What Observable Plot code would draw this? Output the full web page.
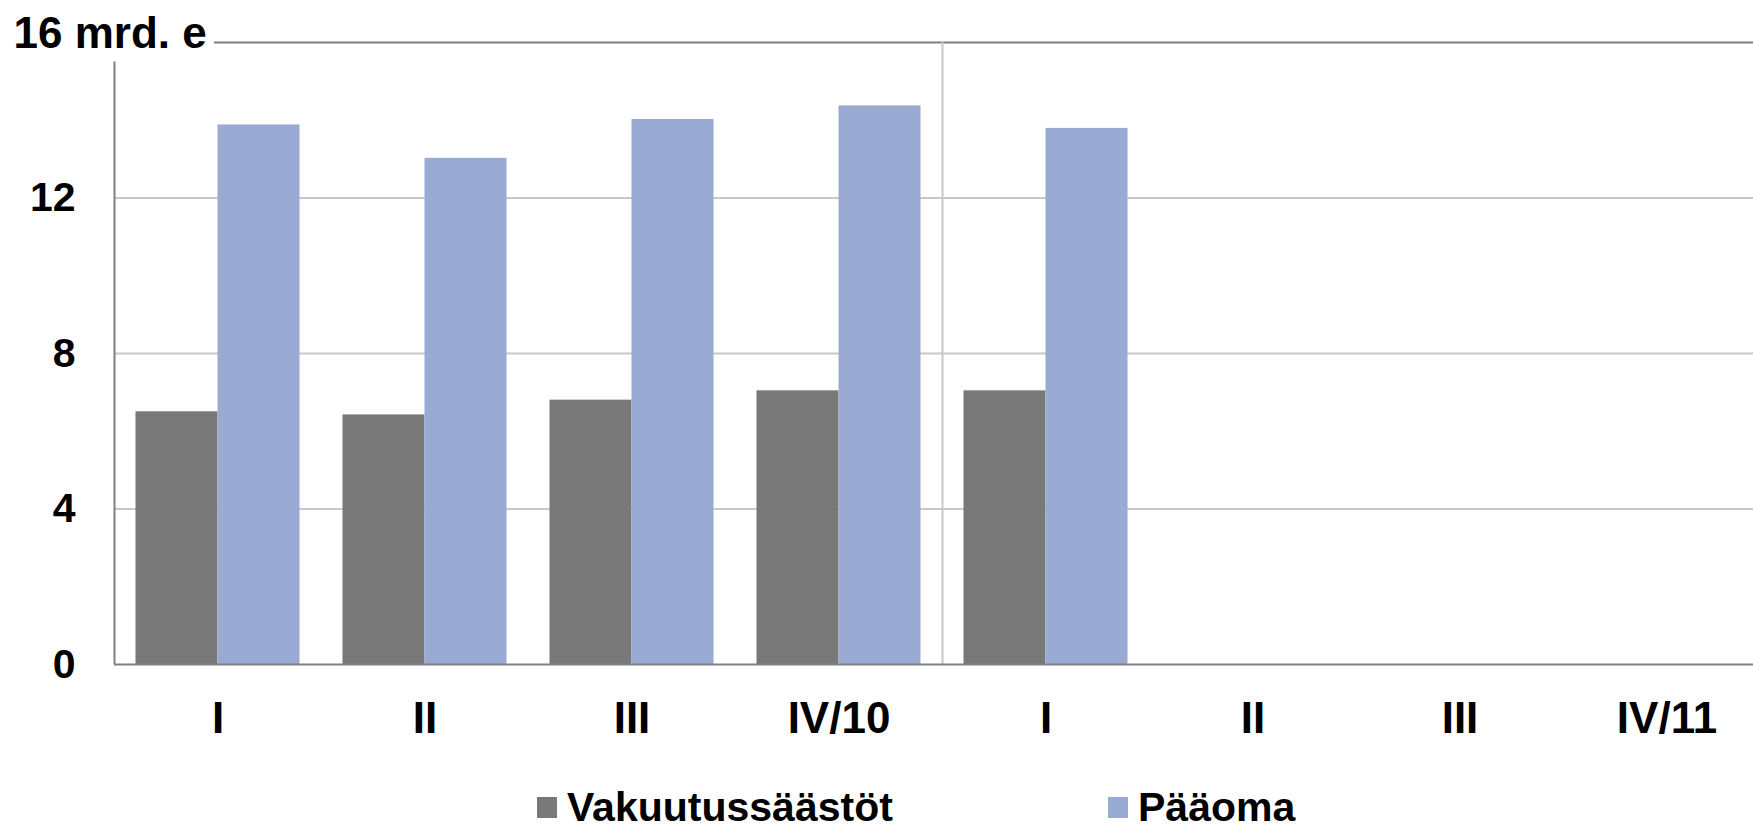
<!DOCTYPE html>
<html><head><meta charset="utf-8">
<script src="https://cdn.jsdelivr.net/npm/d3@7"></script>
<script src="https://cdn.jsdelivr.net/npm/@observablehq/plot@0.6"></script>
<style>
html,body{margin:0;padding:0;background:#fff;}
body{position:relative;width:1753px;height:829px;font-family:"Liberation Sans",Arial,sans-serif;}
#chart svg{display:block;}
#legend{position:absolute;left:537px;top:787px;display:flex;align-items:center;font-weight:bold;font-size:41px;color:#000;line-height:1;height:41px;}
.item{display:flex;align-items:center;}
.item:first-child{width:571px;}
.sw{width:20px;height:21px;margin-right:10px;flex:none;}
</style></head><body>
<div id="chart"></div>
<div id="legend"></div>
<script>
// ---- data ----
const quarters = ["I/10", "II/10", "III/10", "IV/10", "I/11", "II/11", "III/11", "IV/11"];
const quarterLabels = ["I", "II", "III", "IV/10", "I", "II", "III", "IV/11"];
const series = ["Vakuutussäästöt", "Pääoma"];
const vakuutussaastot = [6.50, 6.42, 6.80, 7.04, 7.04];
const paaoma = [13.88, 13.02, 14.02, 14.37, 13.79];
const yTicks = [0, 4, 8, 12];
const yTop = 16;
const yTopLabel = "16 mrd. e";

// ---- styles ----
const colors = ["#787878", "#99abd3"];
const gridColor = "#c8c8c8";
const axisColor = "#7f7f7f";
const plotLeft = 114, plotRight = 1770;
const bandW = (plotRight - plotLeft) / quarters.length;

// long table; quarters without data keep an empty value so their facet still exists
const rows = [];
quarters.forEach((q, i) => {
  rows.push({q, s: series[0], v: i < vakuutussaastot.length ? vakuutussaastot[i] : NaN});
  rows.push({q, s: series[1], v: i < paaoma.length ? paaoma[i] : NaN});
});

const chart = Plot.plot({
  width: 1753,
  height: 770,
  marginLeft: plotLeft,
  marginRight: 0,
  marginTop: 42,
  marginBottom: 106,
  style: {fontFamily: '"Liberation Sans", Arial, sans-serif', background: "#fff", color: "#000"},
  fx: {domain: quarters, range: [plotLeft, plotRight], padding: 0, round: false},
  x: {domain: series, paddingInner: 0, paddingOuter: 0.262, round: false, axis: null},
  y: {domain: [0, yTop]},
  color: {domain: series, range: colors},
  marks: [
    Plot.gridY(yTicks.filter(t => t > 0), {stroke: gridColor, strokeOpacity: 1, strokeWidth: 2}),
    Plot.ruleY([yTop], {stroke: axisColor, strokeWidth: 2}),
    Plot.ruleX([{q: quarters[4]}], {fx: "q", x: null, y1: 0, y2: yTop, stroke: gridColor, strokeWidth: 2, dx: -bandW / 2}),
    Plot.barY(rows, {fx: "q", x: "s", y: "v", fill: "s"}),
    Plot.ruleY([0], {stroke: axisColor, strokeWidth: 2}),
    Plot.ruleX([{q: quarters[0]}], {fx: "q", x: null, y1: 0, y2: 15.5, stroke: axisColor, strokeWidth: 2, dx: -bandW / 2}),
    Plot.axisY({ticks: yTicks, tickSize: 0, tickPadding: 39, fontSize: 41, fontWeight: "bold", tickFormat: d => String(d)}),
    Plot.text([{q: quarters[0], y: yTop, t: yTopLabel}], {
      fx: "q", y: "y", text: "t", frameAnchor: "left", textAnchor: "start",
      dx: -101, dy: -9, fontSize: 44, fontWeight: "bold", fill: "#000",
      stroke: "#fff", strokeWidth: 18, paintOrder: "stroke"
    }),
    Plot.axisFx({anchor: "bottom", tickSize: 0, tickPadding: 37, fontSize: 44, fontWeight: "bold",
      tickFormat: d => quarterLabels[quarters.indexOf(d)], label: null})
  ]
});
document.getElementById("chart").appendChild(chart);

const legend = document.getElementById("legend");
series.forEach((s, i) => {
  const item = document.createElement("div");
  item.className = "item";
  const sw = document.createElement("span");
  sw.className = "sw";
  sw.style.background = colors[i];
  const label = document.createElement("span");
  label.textContent = s;
  item.appendChild(sw);
  item.appendChild(label);
  legend.appendChild(item);
});
</script>
</body></html>
